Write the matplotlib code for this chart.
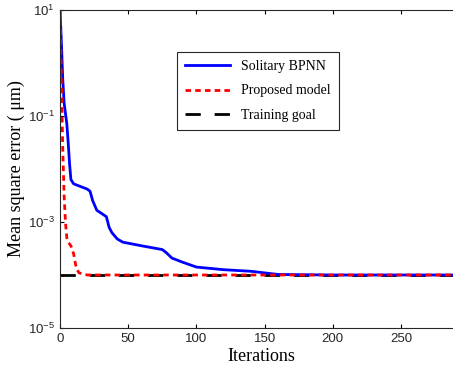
import numpy as np
import matplotlib.pyplot as plt

# iteration / log10(MSE) values
bpnn_iter = [0, 1, 2, 3, 4, 5, 6, 7, 8, 10, 15, 20, 22, 24, 27, 30, 34, 36, 38, 42, 46,
             60, 75, 78, 82, 90, 100, 120, 140, 150, 160, 200, 295]
bpnn_log = [1.0, 0.4, -0.3, -0.75, -0.95, -1.15, -1.5, -1.9, -2.2, -2.28, -2.33, -2.38,
            -2.42, -2.6, -2.78, -2.83, -2.9, -3.1, -3.2, -3.32, -3.38, -3.45, -3.52, -3.58,
            -3.68, -3.76, -3.85, -3.9, -3.93, -3.96, -3.99, -4.0, -4.0]

prop_iter = [0, 1, 2, 3, 4, 5, 6, 8, 10, 12, 14, 20, 295]
prop_log = [1.0, -0.3, -1.6, -2.5, -3.0, -3.3, -3.38, -3.45, -3.6, -3.88, -3.96, -4.0, -4.0]

goal_iter = [0, 295]
goal_val = [1e-4, 1e-4]

bpnn_mse = 10.0 ** np.array(bpnn_log)
prop_mse = 10.0 ** np.array(prop_log)

fig = plt.figure(figsize=(4.53, 3.74), dpi=100)
# axes run a little past the right edge, like the cropped original
ax = fig.add_axes([60 / 453, 46 / 374, 402 / 453, 318 / 374])

ax.plot(goal_iter, goal_val, color="black", lw=2, dashes=(5.5, 5), label="Training goal")
ax.plot(bpnn_iter, bpnn_mse, color="#0000ff", lw=2, label="Solitary BPNN")
ax.plot(prop_iter, prop_mse, color="#ff0000", lw=2, dashes=(2, 1.5), label="Proposed model")

ax.set_yscale("log")
ax.set_ylim(1e-5, 1e1)
ax.set_xlim(0, 402 / 68.2 * 50)
ax.set_yticks([1e-5, 1e-3, 1e-1, 1e1])
ax.minorticks_off()
ax.set_xticks([0, 50, 100, 150, 200, 250])
ax.tick_params(direction="in", top=True, right=False, length=3, labelsize=9.5,
               labelcolor="#262626", width=0.8)
for lab in ax.get_xticklabels() + ax.get_yticklabels():
    lab.set_family("Liberation Sans")
for s in ax.spines.values():
    s.set_color("#262626")
    s.set_linewidth(0.8)

ax.set_xlabel("Iterations", family="Liberation Serif", fontsize=13, labelpad=2)
ax.set_ylabel("Mean square error ( \u03bcm)", family="Liberation Serif", fontsize=13, labelpad=2)

h, l = ax.get_legend_handles_labels()
order = [1, 2, 0]
leg = ax.legend([h[i] for i in order], [l[i] for i in order],
                loc="upper left", bbox_to_anchor=(117 / 402, 1 - 42 / 318),
                borderaxespad=0,
                prop={"family": "Liberation Serif", "size": 10},
                handlelength=3.2, labelspacing=0.8, fancybox=False,
                edgecolor="#262626", framealpha=1, borderpad=0.6)
leg.get_frame().set_linewidth(0.8)

fig.savefig("out.png", dpi=100)
